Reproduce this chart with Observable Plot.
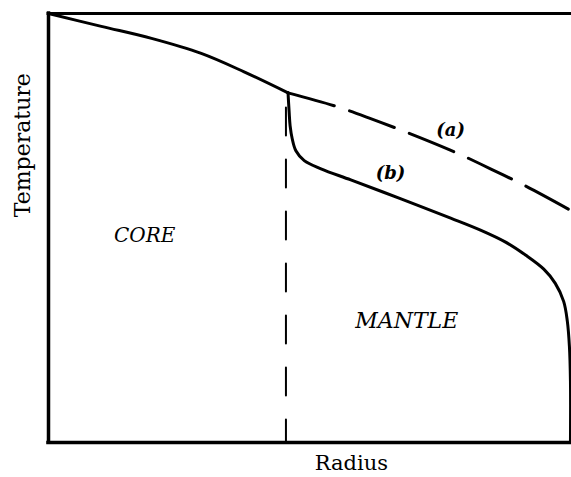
<!DOCTYPE html>
<html>
<head>
<meta charset="utf-8">
<script src="https://cdn.jsdelivr.net/npm/d3@7"></script>
<script src="https://cdn.jsdelivr.net/npm/@observablehq/plot@0.6"></script>
<style>
  html, body { margin: 0; padding: 0; background: #fff; }
  #chart svg { display: block; }
</style>
</head>
<body>
<div id="chart"></div>
<script>
// Temperature profile through the core and the mantle (radius and temperature in arbitrary units, 0–100).

// Core geotherm, from the centre out to the core–mantle boundary
const coreRadius = [0, 10.1, 19.7, 29.2, 37.4, 45.8];
const coreTemp   = [100, 97.0, 94.2, 90.7, 86.4, 81.5];

// (a) mantle temperature continuing the core trend
const aRadius = [45.8, 54.6, 61.6, 68.7, 77.5, 84.5, 91.2, 99.4];
const aTemp   = [81.5, 78.5, 75.5, 72.2, 67.8, 63.8, 59.8, 54.4];

// (b) mantle temperature with a thermal boundary layer at each edge
const bRadius = [45.8, 46.0, 46.2, 46.6, 47.3, 48.9, 52.1, 57.8, 67.4, 76.9, 82.6, 87.4, 91.2, 94.7, 96.9, 98.5, 99.2, 99.6, 99.8, 99.8];
const bTemp   = [81.5, 77.3, 73.8, 70.8, 68.0, 65.7, 63.8, 61.2, 56.8, 52.3, 49.5, 46.7, 43.7, 40.4, 37.1, 32.9, 28.3, 22.4, 14.3, 0];

// Core–mantle boundary
const boundaryRadius = 45.4;
const boundaryTop = 81.5;

// Region and curve labels
const regionLabels = ["CORE", "MANTLE"];
const regionRadius = [18.4, 68.5];
const regionTemp   = [48.2, 28.4];
const regionSize   = [20, 22];
const curveLabels  = ["(a)", "(b)"];
const curveRadius  = [76.9, 65.4];
const curveTemp    = [72.8, 62.7];

const toPoints = (rs, ts) => rs.map((r, i) => ({r, t: ts[i]}));
const core = toPoints(coreRadius, coreTemp);
const curveA = toPoints(aRadius, aTemp);
const curveB = toPoints(bRadius, bTemp);
const boundary = [{r: boundaryRadius, t: 0}, {r: boundaryRadius, t: boundaryTop}];
const regions = regionLabels.map((label, i) => ({label, r: regionRadius[i], t: regionTemp[i], size: regionSize[i]}));
const curveTags = curveLabels.map((label, i) => ({label, r: curveRadius[i], t: curveTemp[i]}));

const font = "DejaVu Serif";
const ink = "#000";

const chart = Plot.plot({
  width: 571,
  height: 477,
  marginLeft: 48,
  marginRight: 0,
  marginTop: 13,
  marginBottom: 35,
  style: {background: "#fff", fontFamily: font, overflow: "visible"},
  x: {domain: [0, 100], axis: null},
  y: {domain: [0, 100], axis: null},
  marks: [
    // box: top, bottom and left edges
    Plot.ruleY([100], {stroke: ink, strokeWidth: 3, strokeLinecap: "square"}),
    Plot.ruleY([0], {stroke: ink, strokeWidth: 3.5, strokeLinecap: "square"}),
    Plot.ruleX([0], {stroke: ink, strokeWidth: 3.5, strokeLinecap: "square"}),
    // core–mantle boundary
    Plot.line(boundary, {x: "r", y: "t", stroke: ink, strokeWidth: 2, strokeDasharray: "28,24", strokeDashoffset: 5}),
    // temperature curves
    Plot.line(core, {x: "r", y: "t", stroke: ink, strokeWidth: 3, curve: "catmull-rom"}),
    Plot.line(curveA, {x: "r", y: "t", stroke: ink, strokeWidth: 3, curve: "catmull-rom", strokeDasharray: "48,16"}),
    Plot.line(curveB, {x: "r", y: "t", stroke: ink, strokeWidth: 3, curve: "catmull-rom"}),
    // labels
    Plot.text(regions, {x: "r", y: "t", text: "label", fontSize: d => d.size, fontStyle: "italic", fill: ink, fontFamily: font}),
    Plot.text(curveTags, {x: "r", y: "t", text: "label", fontSize: 18, fontStyle: "italic", fontWeight: "bold", fill: ink, fontFamily: font}),
    Plot.text(["Temperature"], {x: 0, y: 69.3, dx: -26, rotate: -90, fontSize: 22, fill: ink, fontFamily: font}),
    Plot.text(["Radius"], {x: 57.9, y: 0, dy: 21, fontSize: 21, fill: ink, fontFamily: font})
  ]
});

document.getElementById("chart").appendChild(chart);
</script>
</body>
</html>
